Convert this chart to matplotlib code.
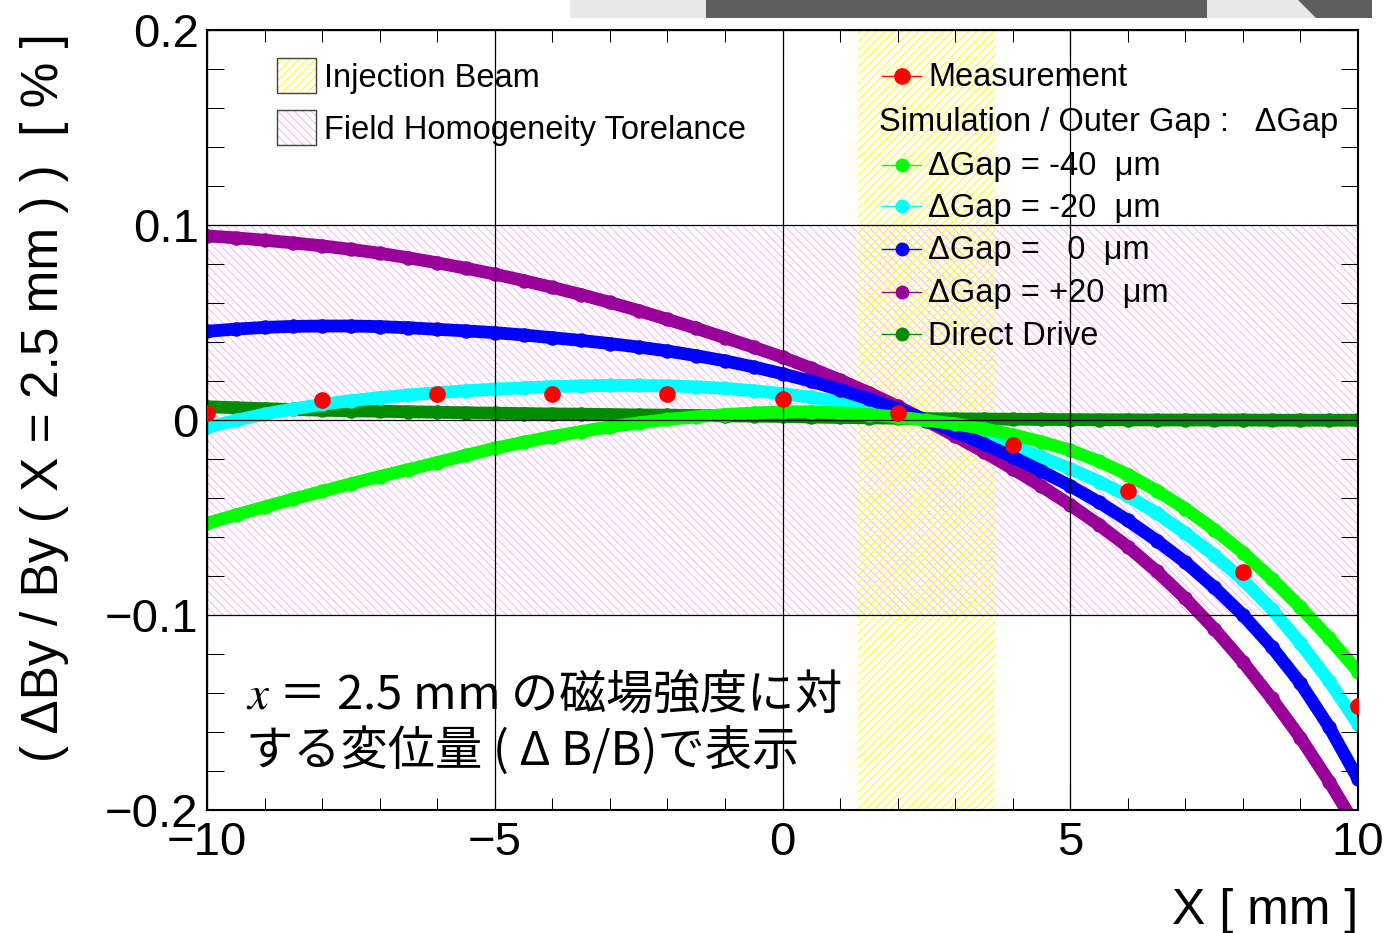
import matplotlib
matplotlib.use('Agg')
import matplotlib.pyplot as plt
from matplotlib.patches import Rectangle, Polygon
from matplotlib.lines import Line2D
from matplotlib.ticker import MultipleLocator, FixedLocator, FixedFormatter

plt.rcParams['font.family'] = ['Liberation Sans', 'DejaVu Sans']
plt.rcParams['hatch.linewidth'] = 0.7
plt.rcParams['mathtext.fontset'] = 'stix'

# ---------------- data ----------------
x_sim = [-10.0, -9.5, -9.0, -8.5, -8.0, -7.5, -7.0, -6.5, -6.0, -5.5, -5.0,
         -4.5, -4.0, -3.5, -3.0, -2.5, -2.0, -1.5, -1.0, -0.5, 0.0,
         0.5, 1.0, 1.5, 2.0, 2.5, 3.0, 3.5, 4.0, 4.5, 5.0,
         5.5, 6.0, 6.5, 7.0, 7.5, 8.0, 8.5, 9.0, 9.5, 10.0]

gap_m40 = [-0.0530, -0.0487, -0.0446, -0.0405, -0.0366, -0.0327, -0.0290, -0.0254, -0.0218, -0.0181, -0.0145,
           -0.0114, -0.0085, -0.0059, -0.0035, -0.0015, 0.0003, 0.0016, 0.0028, 0.0036, 0.0042,
           0.0042, 0.0036, 0.0028, 0.0016, -0.0002, -0.0020, -0.0045, -0.0075, -0.0112, -0.0155,
           -0.0212, -0.0280, -0.0362, -0.0455, -0.0562, -0.0680, -0.0813, -0.0960, -0.1120, -0.1290]

gap_m20 = [-0.0038, -0.0002, 0.0030, 0.0057, 0.0080, 0.0099, 0.0115, 0.0128, 0.0140, 0.0150, 0.0158,
           0.0165, 0.0171, 0.0175, 0.0177, 0.0177, 0.0175, 0.0170, 0.0162, 0.0150, 0.0135,
           0.0116, 0.0093, 0.0065, 0.0034, -0.0003, -0.0043, -0.0088, -0.0137, -0.0191, -0.0250,
           -0.0316, -0.0390, -0.0478, -0.0580, -0.0693, -0.0820, -0.0970, -0.1145, -0.1340, -0.1560]

gap_0 = [0.0455, 0.0466, 0.0475, 0.0480, 0.0482, 0.0482, 0.0479, 0.0473, 0.0465, 0.0457, 0.0448,
         0.0436, 0.0422, 0.0408, 0.0392, 0.0374, 0.0354, 0.0330, 0.0303, 0.0272, 0.0237,
         0.0198, 0.0155, 0.0107, 0.0055, 0.0000, -0.0060, -0.0123, -0.0190, -0.0262, -0.0338,
         -0.0422, -0.0515, -0.0618, -0.0730, -0.0858, -0.1000, -0.1163, -0.1350, -0.1575, -0.1840]

gap_p20 = [0.0944, 0.0934, 0.0922, 0.0908, 0.0893, 0.0875, 0.0855, 0.0832, 0.0806, 0.0778, 0.0748,
           0.0715, 0.0680, 0.0643, 0.0603, 0.0561, 0.0516, 0.0470, 0.0422, 0.0373, 0.0322,
           0.0265, 0.0205, 0.0140, 0.0070, -0.0004, -0.0082, -0.0164, -0.0250, -0.0340, -0.0435,
           -0.0538, -0.0650, -0.0775, -0.0915, -0.1070, -0.1240, -0.1428, -0.1630, -0.1855, -0.2100]

direct_drive = [0.0068, 0.0063, 0.0058, 0.0054, 0.0050, 0.0047, 0.0045, 0.0042, 0.0040, 0.0037, 0.0035,
                0.0033, 0.0031, 0.0030, 0.0028, 0.0026, 0.0025, 0.0023, 0.0021, 0.0020, 0.0018,
                0.0015, 0.0013, 0.0011, 0.0009, 0.0007, 0.0006, 0.0005, 0.0004, 0.0003, 0.0002,
                0.0001, 0.0001, 0.0000, 0.0000, 0.0000, 0.0000, -0.0001, -0.0001, -0.0001, -0.0001]

x_meas = [-10, -8, -6, -4, -2, 0, 2, 4, 6, 8, 10]
y_meas = [0.0038, 0.0101, 0.0135, 0.0135, 0.0135, 0.0108, 0.0038, -0.0128, -0.0364, -0.0781, -0.1465]

beam_range = [1.3, 3.7]
tolerance_range = [-0.1, 0.1]

xtick_vals = [-10, -5, 0, 5, 10]
xtick_labels = ['\u221210', '\u22125', '0', '5', '10']
ytick_vals = [-0.2, -0.1, 0.0, 0.1, 0.2]
ytick_labels = ['\u22120.2', '\u22120.1', '0', '0.1', '0.2']

series_labels = ['\u0394Gap = -40  \u03bcm', '\u0394Gap = -20  \u03bcm',
                 '\u0394Gap =   0  \u03bcm', '\u0394Gap = +20  \u03bcm', 'Direct Drive']
series_colors = ['#00ff00', '#00ffff', '#0000ff', '#990099', '#008c00']

# ---------------- figure ----------------
W, H = 1388, 933
fig = plt.figure(figsize=(W / 100, H / 100), dpi=100)
L, R, T, B = 207, 1358, 30, 810
ax = fig.add_axes([L / W, (H - B) / H, (R - L) / W, (B - T) / H])


def axx(px):
    return (px - L) / (R - L)


def axy(py):
    return (B - py) / (B - T)


ax.set_xlim(-10, 10)
ax.set_ylim(-0.2, 0.2)

PINK = '#ffb0ff'
YELLOW = '#ffff00'

# bands
ax.axhspan(tolerance_range[0], tolerance_range[1], facecolor='none', edgecolor=PINK,
           hatch='\\\\\\\\', lw=0, zorder=1)
ax.axvspan(beam_range[0], beam_range[1], facecolor='none', edgecolor=YELLOW,
           hatch='////', lw=0, zorder=1.1)

# simulation series (grid is drawn on top of them, as in the reference)
order_z = [2.4, 2.1, 2.3, 2.2, 2.0]
sims = [gap_m40, gap_m20, gap_0, gap_p20, direct_drive]
for ys, c, z in zip(sims, series_colors, order_z):
    ax.plot(x_sim, ys, '-', color=c, lw=9.2, solid_capstyle='round', solid_joinstyle='round',
            marker='o', ms=9.4, mec=c, mfc=c, zorder=z)

ax.plot(x_meas, y_meas, 'o', color='#ff0000', ms=11, mec='#ff0000', zorder=3)

# axes styling
for s in ax.spines.values():
    s.set_linewidth(1.5)
ax.xaxis.set_major_locator(FixedLocator(xtick_vals))
ax.xaxis.set_major_formatter(FixedFormatter(xtick_labels))
ax.yaxis.set_major_locator(FixedLocator(ytick_vals))
ax.yaxis.set_major_formatter(FixedFormatter(ytick_labels))
ax.xaxis.set_minor_locator(MultipleLocator(1))
ax.yaxis.set_minor_locator(MultipleLocator(0.02))
ax.tick_params(which='both', direction='in', top=True, right=True, color='black', width=0.75)
ax.tick_params(axis='x', which='minor', length=8.6)
ax.tick_params(axis='x', which='major', length=17, labelsize=34, pad=8)
ax.tick_params(axis='y', which='minor', length=12.2)
ax.tick_params(axis='y', which='major', length=24, labelsize=34, pad=6)
ax.grid(True, which='major', color='black', lw=0.9)
ax.set_axisbelow(False)

ax.set_ylabel('( \u0394By / By ( X = 2.5 mm ) )  [ % ]', fontsize=37)
ax.yaxis.set_label_coords(axx(45), axy(398))
ax.yaxis.label.set_va('center')
ax.set_xlabel('X [ mm ]', fontsize=36, ha='right', va='baseline')
ax.xaxis.set_label_coords(1.0, axy(924))

# left legend (manual)
left_items = [('Injection Beam', YELLOW, '////', 58, 93, 87),
              ('Field Homogeneity Torelance', PINK, '\\\\\\\\', 110, 145, 139)]
for lab, col, hat, y0, y1, base in left_items:
    ax.add_patch(Rectangle((axx(277), axy(y1)), axx(316) - axx(277), axy(y0) - axy(y1),
                           transform=ax.transAxes, facecolor='white', edgecolor=col,
                           hatch=hat, lw=0, zorder=9))
    ax.add_patch(Rectangle((axx(277), axy(y1)), axx(316) - axx(277), axy(y0) - axy(y1),
                           transform=ax.transAxes, facecolor='none', edgecolor='#404040',
                           lw=1.0, zorder=10))
    ax.text(axx(324), axy(base), lab, transform=ax.transAxes, fontsize=23.5,
            va='baseline', ha='left', zorder=10)

# right legend (manual)
right_items = [('Measurement', '#ff0000', 11, 86)] + [
    (lab, c, 9, b) for lab, c, b in zip(series_labels, series_colors, [175, 216.7, 259.3, 302.3, 345])]
for lab, c, ms, base in right_items:
    ym = axy(base - 10.5)
    ax.add_line(Line2D([axx(882), axx(921)], [ym, ym], transform=ax.transAxes,
                       color=c, lw=1.0, zorder=10))
    ax.add_line(Line2D([axx(901.5)], [ym], transform=ax.transAxes, marker='o', ms=ms,
                       color=c, mec=c, zorder=11))
    ax.text(axx(928), axy(base), lab, transform=ax.transAxes, fontsize=23.5,
            va='baseline', ha='left', zorder=10)
ax.text(axx(879), axy(130.7), 'Simulation / Outer Gap :   \u0394Gap', transform=ax.transAxes,
        fontsize=23.5, va='baseline', ha='left', zorder=10)

# Japanese annotation
jp = ['Noto Sans CJK JP', 'DejaVu Sans']
ax.text(axx(246), axy(709), '$x$ \uff1d 2.5 mm \u306e\u78c1\u5834\u5f37\u5ea6\u306b\u5bfe',
        transform=ax.transAxes, fontsize=34, family=jp, va='baseline', ha='left', zorder=10)
ax.text(axx(246), axy(766), '\u3059\u308b\u5909\u4f4d\u91cf ( \u0394 B/B)\u3067\u8868\u793a',
        transform=ax.transAxes, fontsize=34, family=jp, va='baseline', ha='left', zorder=10)

# top gray strip (screenshot artifact)
fig.add_artist(Rectangle((570 / W, (H - 18) / H), (1372 - 570) / W, 18 / H,
                         transform=fig.transFigure, facecolor='#e8e8e8', edgecolor='none'))
fig.add_artist(Rectangle((706 / W, (H - 18) / H), (1207 - 706) / W, 18 / H,
                         transform=fig.transFigure, facecolor='#5e5e5e', edgecolor='none'))
fig.add_artist(Polygon([(1298 / W, 1.0), (1372 / W, 1.0), (1372 / W, (H - 18) / H), (1316 / W, (H - 18) / H)],
                       closed=True, transform=fig.transFigure, facecolor='#5e5e5e', edgecolor='none'))

fig.savefig('out.png', dpi=100)
